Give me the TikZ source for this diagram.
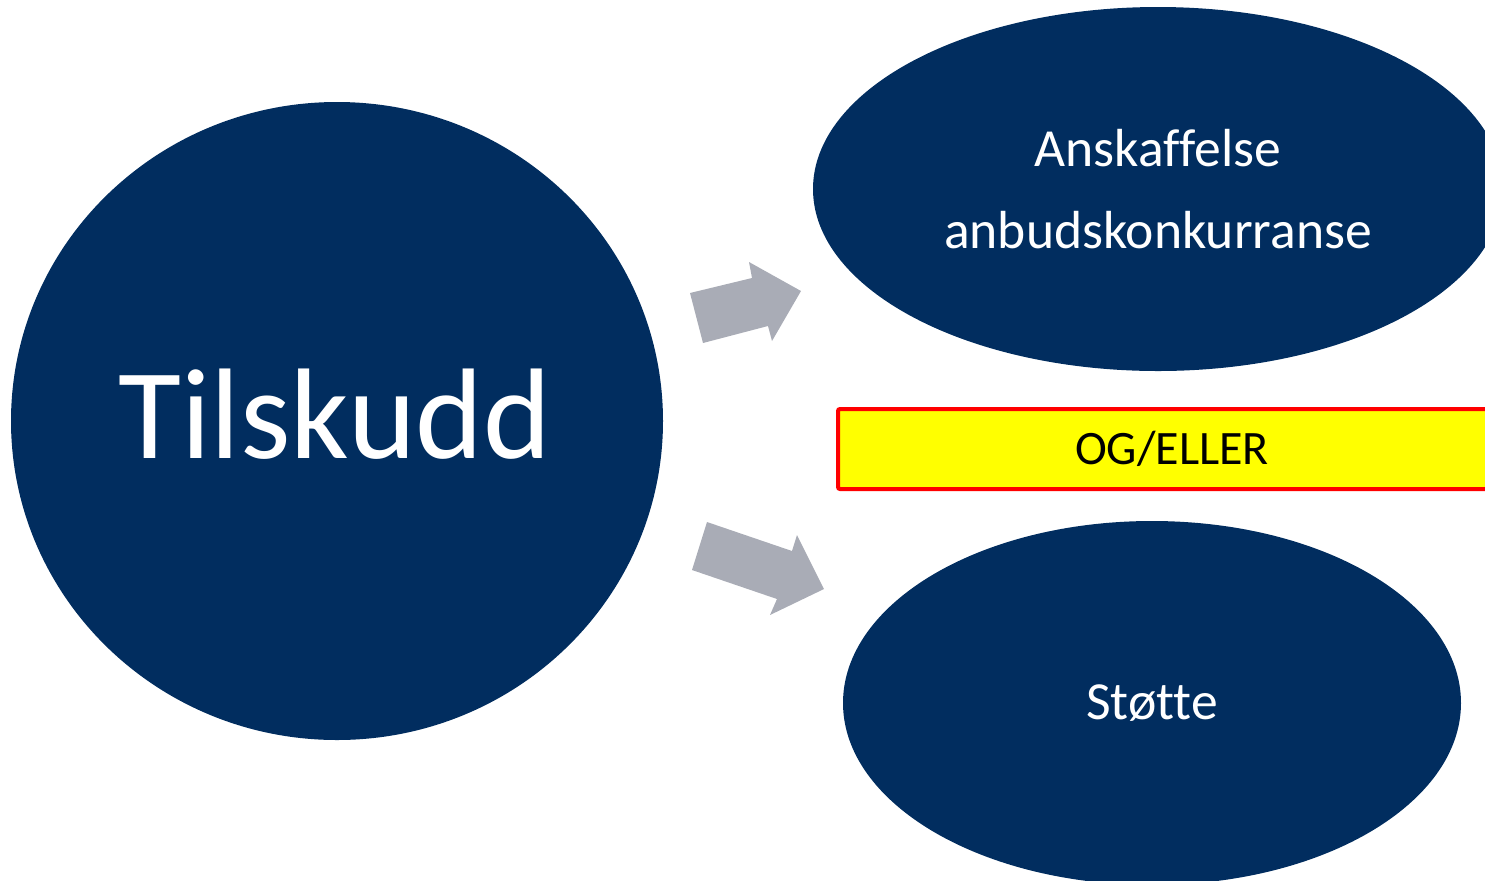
\documentclass[tikz,border=0pt]{standalone}
\usepackage{fontspec}
\setmainfont[Ligatures={NoCommon}]{Carlito}
\usetikzlibrary{shapes.geometric}
\definecolor{navy}{HTML}{012D5F}
\definecolor{arrowgray}{HTML}{A9ACB6}
\definecolor{boxyellow}{HTML}{FFFF00}
\definecolor{boxred}{HTML}{FF0000}
\tikzset{
  blob/.style={ellipse, fill=navy, text=white, inner sep=0pt, align=center},
  blobtext/.style={text=white, inner sep=0pt, align=center},
  blockarrow/.style={fill=arrowgray, draw=none},
  orbox/.style={rectangle, fill=boxyellow, draw=boxred, line width=2pt, rounded corners=1pt, inner sep=0pt, text=black}
}
\begin{document}
\begin{tikzpicture}[x=0.5pt,y=-0.5pt]
\useasboundingbox (0,0) rectangle (1485,880);
\clip (0,0) rectangle (1485,880);
\node[blob, minimum width=326pt, minimum height=319pt] (tilskudd) at (337,421) {};
\node[blobtext, font=\fontsize{64.5}{70}\selectfont] (tilskuddtext) at (335,414) {Tilskudd};
\node[blob, minimum width=345pt, minimum height=182pt, font=\fontsize{26.8}{41}\selectfont] (anskaffelse) at (1158,189) {Anskaffelse\\anbudskonkurranse};
\node[blob, minimum width=309pt, minimum height=182pt, font=\fontsize{26.8}{36}\selectfont] (stotte) at (1152,703) {Støtte};
\node[orbox, minimum width=334pt, minimum height=40pt, font=\fontsize{24}{30}\selectfont] (oreller) at (1172,449) {OG/ELLER};
% upper block arrow
\fill[blockarrow] (690,293) -- (752,278) -- (749,262) -- (801,291) -- (772,341) -- (768,326) -- (703,343) -- cycle;
% lower block arrow
\fill[blockarrow] (707,522) -- (792,551) -- (797,535) -- (824,589) -- (770,615) -- (777,599) -- (692,570) -- cycle;
\end{tikzpicture}
\end{document}
